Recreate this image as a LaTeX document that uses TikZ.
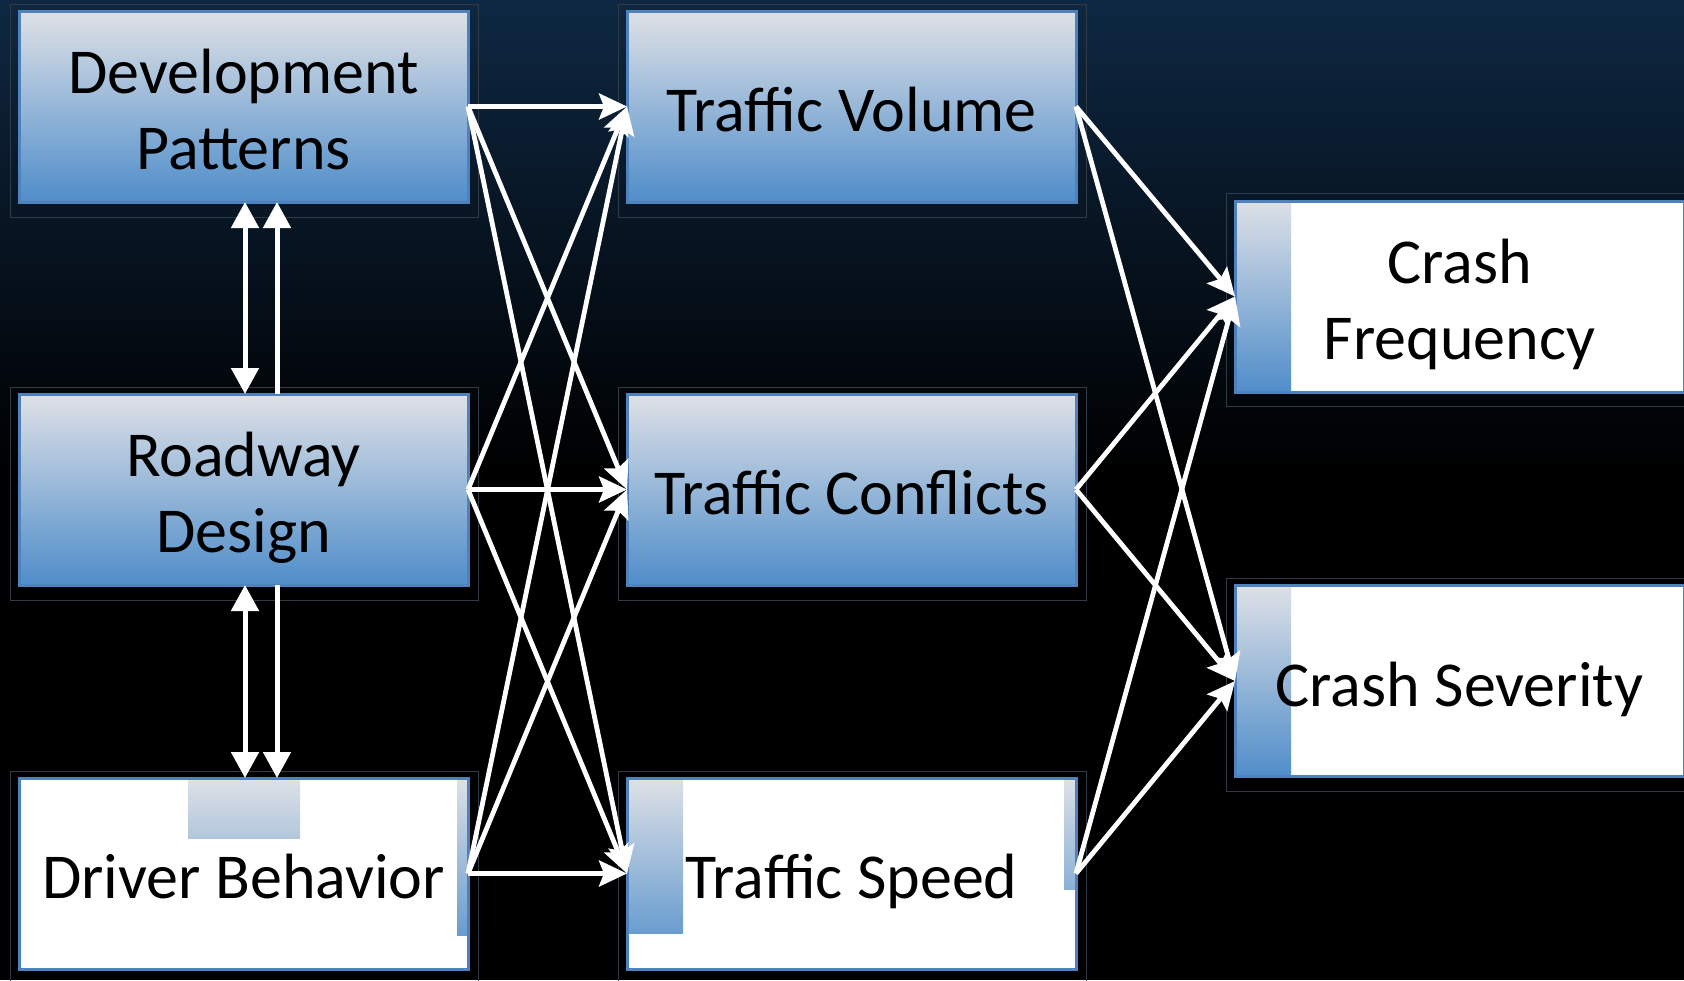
\documentclass[tikz,border=0pt]{standalone}
\usepackage{fontspec}
\setmainfont{Carlito}
\usetikzlibrary{arrows.meta}
\pgfdeclarelayer{bg}
\pgfdeclarelayer{mid}
\pgfsetlayers{bg,mid,main}
\definecolor{boxgray}{RGB}{222,225,230}
\definecolor{boxblue}{RGB}{79,141,202}
\definecolor{boxline}{RGB}{79,129,189}
\definecolor{navy}{RGB}{14,40,67}
\definecolor{framegray}{RGB}{50,58,68}
\newcommand\lowtext[1]{\raisebox{-10pt}[\height][\depth]{\begin{tabular}{@{}c@{}}#1\end{tabular}}}
\begin{document}
\begin{tikzpicture}[x=1pt,y=-1pt,
  box/.style={rectangle, minimum width=449pt, minimum height=191pt, inner sep=0pt, outer sep=0pt,
    draw=boxline, line width=3pt, font=\fontsize{64}{76}\selectfont, text=black},
  gradbox/.style={box, top color=boxgray, bottom color=boxblue},
  arr/.style={draw=white, line width=4.8pt, -{Stealth[length=28pt,width=26pt,inset=5pt]}},
  vtip/.tip={Triangle[length=26pt,width=27pt]},
  varr/.style={draw=white, line width=5pt},
  frame/.style={draw=framegray, line width=1pt}]
\useasboundingbox (0,0) rectangle (1684,980);
\begin{pgfonlayer}{bg}
  \fill[black] (0,0) rectangle (1684,980);
  \shade[top color=navy, bottom color=black] (0,0) rectangle (1684,470);
  \foreach \x/\y in {19/11,19/394,19/778,627/11,627/394,627/778,1235/200,1235/585}{
    \draw[frame] (\x-9,\y-7) rectangle (\x+459,\y+206);
  }
\end{pgfonlayer}

\node[gradbox] (dp) at (243.5,106.5) {\lowtext{Development\\Patterns}};
\node[gradbox] (rd) at (243.5,489.5) {\lowtext{Roadway\\Design}};
\node[box] (db) at (243.5,873.5) {\lowtext{Driver Behavior}};
\node[gradbox] (tv) at (851.5,106.5) {\lowtext{Traffic Volume}};
\node[gradbox] (tc) at (851.5,489.5) {\lowtext{Traffic Conflicts}};
\node[box] (ts) at (851.5,873.5) {\lowtext{Traffic Speed}};
\node[box] (cf) at (1459.5,296.5) {\lowtext{Crash\\Frequency}};
\node[box] (cs) at (1459.5,681) {\lowtext{Crash Severity}};

\begin{pgfonlayer}{mid}
  \foreach \n in {db,ts,cf,cs}{\fill[white] (\n.north west) rectangle (\n.south east);}
  \shade[top color=boxgray, bottom color=boxblue!31!boxgray] (188,778) rectangle (300,838);
  \shade[top color=boxgray, bottom color=boxblue!82!boxgray] (457,778) rectangle (468,935);
  \shade[top color=boxgray, bottom color=boxblue!81!boxgray] (627,778) rectangle (683,933);
  \shade[top color=boxgray, bottom color=boxblue!58!boxgray] (1064,778) rectangle (1076,889);
  \shade[top color=boxgray, bottom color=boxblue] (1235,200) rectangle (1291,393);
  \shade[top color=boxgray, bottom color=boxblue] (1235,585) rectangle (1291,777);
\end{pgfonlayer}

\coordinate (l1) at (245,0);
\coordinate (l2) at (277,0);
\draw[varr, {vtip}-{vtip}] (dp.south -| l1) -- (rd.north -| l1);
\draw[varr, {vtip}-] (dp.south -| l2) -- (rd.north -| l2);
\draw[varr, {vtip}-{vtip}] (rd.south -| l1) -- (db.north -| l1);
\draw[varr, -{vtip}] (rd.south -| l2) -- (db.north -| l2);

\foreach \s in {dp,rd,db}{
  \foreach \t in {tv,tc,ts}{
    \draw[arr] (\s.east) -- (\t.west);
  }
}
\foreach \s in {tv,tc,ts}{
  \foreach \t in {cf,cs}{
    \draw[arr] (\s.east) -- (\t.west);
  }
}
\end{tikzpicture}
\end{document}
